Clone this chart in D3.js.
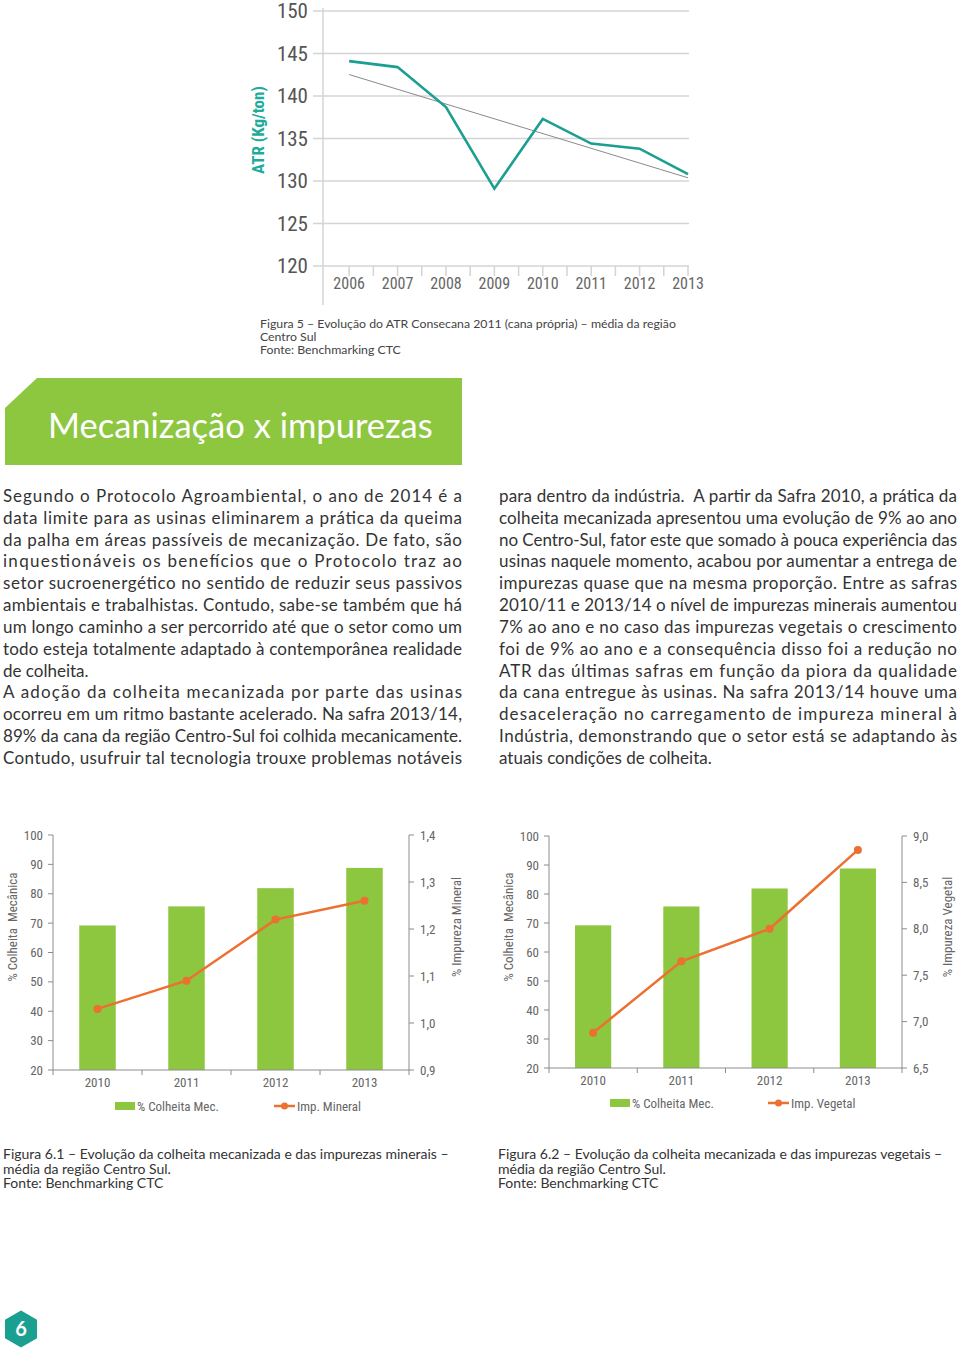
<!DOCTYPE html>
<html>
<head>
<meta charset="utf-8">
<script src="https://cdn.jsdelivr.net/npm/d3@7"></script>
<style>
  body { margin: 0; background: #fff; }
  svg { display: block; }
  .narrow { font-family: 'Liberation Sans Narrow', 'Roboto Condensed', 'Arial Narrow', sans-serif; }
  .body { font-family: 'Lato', 'Noto Sans', sans-serif; }
</style>
</head>
<body>
<svg id="page" width="960" height="1352"></svg>
<script>
// --- ATR chart data (figura 5)
const atrYears = [2006, 2007, 2008, 2009, 2010, 2011, 2012, 2013];
const atrValues = [144.1, 143.4, 138.7, 129.1, 137.3, 134.4, 133.8, 130.8];
const atrTicks = [120, 125, 130, 135, 140, 145, 150];

// --- mecanização x impurezas (figuras 6.1 / 6.2)
const safraYears = ['2010', '2011', '2012', '2013'];
const colheitaMec = [69.2, 75.7, 81.9, 88.8];
const impMineral = [1.03, 1.09, 1.22, 1.26];
const impVegetal = [6.88, 7.65, 8.0, 8.85];
const colheitaTicks = [20, 30, 40, 50, 60, 70, 80, 90, 100];
const mineralTicks = [0.9, 1.0, 1.1, 1.2, 1.3, 1.4];
const vegetalTicks = [6.5, 7.0, 7.5, 8.0, 8.5, 9.0];

// --- texts
const leftCol = [
  'Segundo o Protocolo Agroambiental, o ano de 2014 é a',
  'data limite para as usinas eliminarem a prática da queima',
  'da palha em áreas passíveis de mecanização. De fato, são',
  'inquestionáveis os benefícios que o Protocolo traz ao',
  'setor sucroenergético no sentido de reduzir seus passivos',
  'ambientais e trabalhistas. Contudo, sabe-se também que há',
  'um longo caminho a ser percorrido até que o setor como um',
  'todo esteja totalmente adaptado à contemporânea realidade',
  'de colheita.',
  'A adoção da colheita mecanizada por parte das usinas',
  'ocorreu em um ritmo bastante acelerado. Na safra 2013/14,',
  '89% da cana da região Centro-Sul foi colhida mecanicamente.',
  'Contudo, usufruir tal tecnologia trouxe problemas notáveis'
];
const leftNoJustify = [8];
const rightCol = [
  'para dentro da indústria.  A partir da Safra 2010, a prática da',
  'colheita mecanizada apresentou uma evolução de 9% ao ano',
  'no Centro-Sul, fator este que somado à pouca experiência das',
  'usinas naquele momento, acabou por aumentar a entrega de',
  'impurezas quase que na mesma proporção. Entre as safras',
  '2010/11 e 2013/14 o nível de impurezas minerais aumentou',
  '7% ao ano e no caso das impurezas vegetais o crescimento',
  'foi de 9% ao ano e a consequência disso foi a redução no',
  'ATR das últimas safras em função da piora da qualidade',
  'da cana entregue às usinas. Na safra 2013/14 houve uma',
  'desaceleração no carregamento de impureza mineral à',
  'Indústria, demonstrando que o setor está se adaptando às',
  'atuais condições de colheita.'
];
const rightNoJustify = [12];

const svg = d3.select('#page');
const fmt = d => d.toFixed(1).replace('.', ',');

// ================= Figura 5 =================
(function atrChart() {
  let x = d3.scaleLinear().domain([2005.46, 2013]).range([323, 688]);
  let y = d3.scaleLinear().domain([120, 150]).range([266, 11]);
  let g = svg.append('g');

  // grid lines
  g.selectAll('.grid')
    .data(atrTicks)
    .enter()
    .append('line')
    .attr('x1', 313).attr('x2', 689)
    .attr('y1', d => y(d)).attr('y2', d => y(d))
    .style('stroke', '#d4d4d4')
    .style('stroke-width', 1.5);

  // vertical axis line
  g.append('line')
    .attr('x1', 323).attr('x2', 323)
    .attr('y1', y(150) - 3).attr('y2', 305)
    .style('stroke', '#d4d4d4')
    .style('stroke-width', 1.5);

  // x ticks every half category
  let halfTicks = d3.range(2006, 2013.01, 0.5);
  g.selectAll('.xt')
    .data(halfTicks)
    .enter()
    .append('line')
    .attr('x1', d => x(d)).attr('x2', d => x(d))
    .attr('y1', y(120)).attr('y2', y(120) + 10)
    .style('stroke', '#d4d4d4')
    .style('stroke-width', 1.5);

  g.selectAll('.ylab')
    .data(atrTicks)
    .enter()
    .append('text')
    .attr('class', 'narrow')
    .attr('x', 308)
    .attr('y', d => y(d) + 7)
    .attr('text-anchor', 'end')
    .style('font-size', '21px')
    .style('fill', '#555')
    .text(d => d);

  g.selectAll('.xlab')
    .data(atrYears)
    .enter()
    .append('text')
    .attr('class', 'narrow')
    .attr('x', d => x(d))
    .attr('y', 289)
    .attr('text-anchor', 'middle')
    .style('font-size', '16px')
    .style('fill', '#666')
    .text(d => d);

  // linear trend (least squares of the series)
  let mx = d3.mean(atrYears), my = d3.mean(atrValues);
  let sxy = d3.sum(atrYears, (d, i) => (d - mx) * (atrValues[i] - my));
  let sxx = d3.sum(atrYears, d => (d - mx) * (d - mx));
  let slope = sxy / sxx;
  let trend = [2006, 2013].map(t => [t, my + slope * (t - mx)]);
  g.append('path')
    .attr('d', d3.line().x(d => x(d[0])).y(d => y(d[1]))(trend))
    .style('fill', 'none')
    .style('stroke', '#8a8a8a')
    .style('stroke-width', 1);

  g.append('path')
    .attr('d', d3.line().x((d, i) => x(atrYears[i])).y(d => y(d))(atrValues))
    .style('fill', 'none')
    .style('stroke', '#1b9f90')
    .style('stroke-width', 2.6)
    .style('stroke-linejoin', 'miter');

  g.append('text')
    .attr('class', 'narrow')
    .attr('transform', 'translate(264,130) rotate(-90)')
    .attr('text-anchor', 'middle')
    .style('font-size', '17px')
    .style('font-weight', 'bold')
    .style('fill', '#1fab9c')
    .text('ATR (Kg/ton)');
})();

// caption figura 5
['Figura 5 – Evolução do ATR Consecana 2011 (cana própria) – média da região', 'Centro Sul', 'Fonte: Benchmarking CTC']
  .forEach((t, i) => {
    svg.append('text')
      .attr('class', 'body')
      .attr('x', 260)
      .attr('y', 328 + i * 13.2)
      .style('font-size', '12.3px')
      .style('fill', '#444')
      .text(t);
  });

// ================= banner =================
svg.append('polygon')
  .attr('points', '37,378 462,378 462,465 5,465 5,408')
  .style('fill', '#8dc63f');
svg.append('text')
  .attr('class', 'body')
  .attr('x', 48)
  .attr('y', 438)
  .style('font-size', '34.5px')
  .style('fill', '#fff')
  .text('Mecanização x impurezas');

// ================= body text =================
function textColumn(lines, x0, width, noJust) {
  lines.forEach((t, i) => {
    let el = svg.append('text')
      .attr('class', 'body')
      .attr('x', x0)
      .attr('y', 502 + i * 21.83)
      .style('font-size', '17px')
      .style('fill', '#333')
      .attr('xml:space', 'preserve')
      .text(t);
    if (noJust.indexOf(i) === -1) {
      el.attr('textLength', width).attr('lengthAdjust', 'spacing');
    }
  });
}
textColumn(leftCol, 3, 459, leftNoJustify);
textColumn(rightCol, 499, 458, rightNoJustify);

// ================= combo charts =================
function comboChart(o) {
  let g = svg.append('g');
  let x = d3.scaleBand().domain(safraYears).range([o.left, o.right])
    .paddingInner(0.59).paddingOuter(0.295);
  let yL = d3.scaleLinear().domain([20, 100]).range([o.bottom, o.top]);
  let yR = d3.scaleLinear().domain(o.rDomain).range([o.bottom, o.top]);
  let axisColor = '#8c8c8c';
  let labColor = '#666';

  g.selectAll('.bar')
    .data(colheitaMec)
    .enter()
    .append('rect')
    .attr('x', (d, i) => x(safraYears[i]))
    .attr('y', d => yL(d))
    .attr('width', x.bandwidth())
    .attr('height', d => yL(20) - yL(d))
    .style('fill', '#8dc63f');

  // axes lines
  g.append('line').attr('x1', o.left).attr('x2', o.left).attr('y1', o.top).attr('y2', o.bottom)
    .style('stroke', axisColor);
  g.append('line').attr('x1', o.right).attr('x2', o.right).attr('y1', o.top).attr('y2', o.bottom)
    .style('stroke', axisColor);
  g.append('line').attr('x1', o.left).attr('x2', o.right).attr('y1', o.bottom).attr('y2', o.bottom)
    .style('stroke', axisColor);

  // left ticks
  g.selectAll('.lt').data(colheitaTicks).enter().append('line')
    .attr('x1', o.left - 5).attr('x2', o.left)
    .attr('y1', d => yL(d)).attr('y2', d => yL(d))
    .style('stroke', axisColor);
  g.selectAll('.ll').data(colheitaTicks).enter().append('text')
    .attr('class', 'narrow')
    .attr('x', o.left - 10)
    .attr('y', d => yL(d) + 4.5)
    .attr('text-anchor', 'end')
    .style('font-size', '13px')
    .style('fill', labColor)
    .text(d => d);

  // right ticks
  g.selectAll('.rt').data(o.rTicks).enter().append('line')
    .attr('x1', o.right).attr('x2', o.right + 5)
    .attr('y1', d => yR(d)).attr('y2', d => yR(d))
    .style('stroke', axisColor);
  g.selectAll('.rl').data(o.rTicks).enter().append('text')
    .attr('class', 'narrow')
    .attr('x', o.right + 11)
    .attr('y', d => yR(d) + 4.5)
    .style('font-size', '13px')
    .style('fill', labColor)
    .text(d => fmt(d));

  // x ticks at band boundaries
  let bounds = [o.left].concat(safraYears.map(d => x(d) + x.bandwidth() + x.step() * x.paddingInner() / 2));
  g.selectAll('.xt').data(bounds).enter().append('line')
    .attr('x1', d => d).attr('x2', d => d)
    .attr('y1', o.bottom).attr('y2', o.bottom + 5)
    .style('stroke', axisColor);
  g.selectAll('.xl').data(safraYears).enter().append('text')
    .attr('class', 'narrow')
    .attr('x', d => x(d) + x.bandwidth() / 2)
    .attr('y', o.bottom + 17)
    .attr('text-anchor', 'middle')
    .style('font-size', '13px')
    .style('fill', labColor)
    .text(d => d);

  // line series
  let line = d3.line().x((d, i) => x(safraYears[i]) + x.bandwidth() / 2).y(d => yR(d));
  g.append('path')
    .attr('d', line(o.rValues))
    .style('fill', 'none')
    .style('stroke', '#ec7030')
    .style('stroke-width', 2.5);
  g.selectAll('.dot').data(o.rValues).enter().append('circle')
    .attr('cx', (d, i) => x(safraYears[i]) + x.bandwidth() / 2)
    .attr('cy', d => yR(d))
    .attr('r', 4)
    .style('fill', '#ec7030');

  // axis titles
  let midY = 927;
  g.append('text')
    .attr('class', 'narrow')
    .attr('transform', 'translate(' + o.lTitleX + ',' + midY + ') rotate(-90)')
    .attr('text-anchor', 'middle')
    .attr('xml:space', 'preserve')
    .style('font-size', '13px')
    .style('fill', labColor)
    .text('% Colheita  Mecânica');
  g.append('text')
    .attr('class', 'narrow')
    .attr('transform', 'translate(' + o.rTitleX + ',' + midY + ') rotate(-90)')
    .attr('text-anchor', 'middle')
    .style('font-size', '13px')
    .style('fill', labColor)
    .text(o.rTitle);

  // legend
  let ly = o.legendY;
  g.append('rect')
    .attr('x', o.legX).attr('y', ly - 4).attr('width', 20).attr('height', 8)
    .style('fill', '#8dc63f');
  g.append('text')
    .attr('class', 'narrow')
    .attr('x', o.legX + 22).attr('y', ly + 5)
    .style('font-size', '13px').style('fill', labColor)
    .text('% Colheita Mec.');
  g.append('line')
    .attr('x1', o.legX2).attr('x2', o.legX2 + 21).attr('y1', ly).attr('y2', ly)
    .style('stroke', '#ec7030').style('stroke-width', 2.5);
  g.append('circle')
    .attr('cx', o.legX2 + 10.5).attr('cy', ly).attr('r', 3.5)
    .style('fill', '#ec7030');
  g.append('text')
    .attr('class', 'narrow')
    .attr('x', o.legX2 + 23).attr('y', ly + 5)
    .style('font-size', '13px').style('fill', labColor)
    .text(o.rLegend);

  // caption
  o.caption.forEach((t, i) => {
    svg.append('text')
      .attr('class', 'body')
      .attr('x', o.capX)
      .attr('y', 1159 + i * 14.5)
      .style('font-size', '14px')
      .style('fill', '#333')
      .text(t);
  });
}

comboChart({
  left: 53, right: 409, top: 835, bottom: 1070,
  rDomain: [0.9, 1.4], rTicks: mineralTicks, rValues: impMineral,
  rTitle: '% Impureza Mineral', rLegend: 'Imp. Mineral',
  lTitleX: 17, rTitleX: 461, legendY: 1106, legX: 115, legX2: 274,
  capX: 3,
  caption: ['Figura 6.1 – Evolução da colheita mecanizada e das impurezas minerais –',
    'média da região Centro Sul.', 'Fonte: Benchmarking CTC']
});
comboChart({
  left: 549, right: 902, top: 836, bottom: 1068,
  rDomain: [6.5, 9.0], rTicks: vegetalTicks, rValues: impVegetal,
  rTitle: '% Impureza Vegetal', rLegend: 'Imp. Vegetal',
  lTitleX: 513, rTitleX: 952, legendY: 1103, legX: 610, legX2: 768,
  capX: 498,
  caption: ['Figura 6.2 – Evolução da colheita mecanizada e das impurezas vegetais –',
    'média da região Centro Sul.', 'Fonte: Benchmarking CTC']
});

// ================= page number =================
let hex = d3.range(6).map(i => {
  let a = Math.PI / 3 * i - Math.PI / 2;
  return [21 + 18.5 * Math.cos(a), 1329 + 18.5 * Math.sin(a)];
});
svg.append('polygon')
  .attr('points', hex.map(p => p.join(',')).join(' '))
  .style('fill', '#1b9f90');
svg.append('text')
  .attr('class', 'body')
  .attr('x', 21).attr('y', 1336)
  .attr('text-anchor', 'middle')
  .style('font-size', '20px')
  .style('font-weight', 'bold')
  .style('fill', '#fff')
  .text('6');
</script>
</body>
</html>
